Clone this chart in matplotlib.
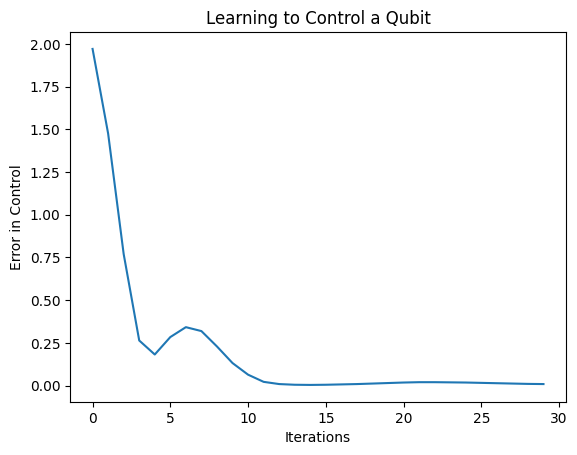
import numpy as np
import matplotlib
matplotlib.use("Agg")
import matplotlib.pyplot as plt

iterations = list(range(30))
errors = [1.970, 1.475, 0.770, 0.264, 0.182, 0.284, 0.342, 0.319, 0.229, 0.132,
          0.064, 0.022, 0.009, 0.005, 0.004, 0.005, 0.007, 0.009, 0.012, 0.015,
          0.018, 0.020, 0.020, 0.019, 0.018, 0.016, 0.014, 0.012, 0.010, 0.009]

fig, ax = plt.subplots(figsize=(6.4, 4.8), dpi=100)
ax.plot(iterations, errors)
ax.set_title("Learning to Control a Qubit")
ax.set_xlabel("Iterations")
ax.set_ylabel("Error in Control")
plt.savefig("out.png", dpi=100, bbox_inches="tight")
